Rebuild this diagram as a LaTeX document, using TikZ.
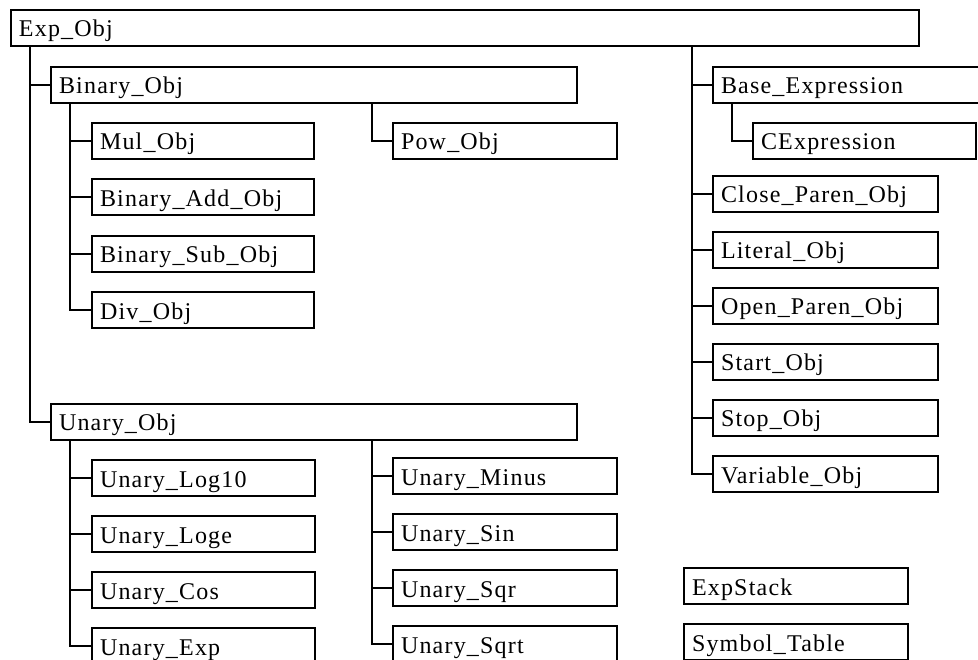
\documentclass[tikz,border=0pt]{standalone}
\usepackage{fontspec}
\setmainfont{Liberation Serif}[LetterSpace=5]

\begin{document}
\begin{tikzpicture}[x=1pt,y=-1pt,line width=2pt,
  every node/.style={font=\fontsize{24}{27}\selectfont},
  cls/.style={draw,rectangle,anchor=north west,minimum height=36pt,
    inner ysep=0pt,inner xsep=8pt,text height=22pt,text depth=4pt,
    align=left,text width=#1}]
  \useasboundingbox (0,0) rectangle (978,660);
  \clip (0,0) rectangle (978,660);
  % root and its two left subtrees
  \node[cls=892pt] (exp) at (10,9) {Exp\_Obj};
  \node[cls=510pt] (binary) at (50,66) {Binary\_Obj};
  \node[cls=510pt] (unary) at (50,403) {Unary\_Obj};
  \coordinate (tExp) at ([xshift=20pt]exp.south west);
  \coordinate (tExpR) at ([xshift=682pt]exp.south west);
  \coordinate (tBin) at ([xshift=20pt]binary.south west);
  \coordinate (tPow) at ([xshift=322pt]binary.south west);
  \coordinate (tUna) at ([xshift=20pt]unary.south west);
  \coordinate (tMin) at ([xshift=322pt]unary.south west);
  \foreach \n in {binary,unary} \draw (tExp) |- (\n.west);
  % binary operators
  \foreach \n/\t/\y in {mul/Mul\_Obj/122,add/Binary\_Add\_Obj/178.5,
      sub/Binary\_Sub\_Obj/235,div/Div\_Obj/291.5}{
    \node[cls=206pt] (\n) at (91,\y) {\t};
    \draw (tBin) |- (\n.west);}
  \node[cls=208pt] (pow) at (392,122) {Pow\_Obj};
  \draw (tPow) |- (pow.west);
  % unary operators
  \foreach \n/\t/\y in {log/Unary\_Log10/459,loge/Unary\_Loge/515,
      cos/Unary\_Cos/571,uexp/Unary\_Exp/627}{
    \node[cls=207pt] (\n) at (91,\y) {\t};
    \draw (tUna) |- (\n.west);}
  \foreach \n/\t/\y in {minus/Unary\_Minus/457,sin/Unary\_Sin/513,
      sqr/Unary\_Sqr/569,sqrt/Unary\_Sqrt/625}{
    \node[cls=208pt] (\n) at (392,\y) {\t};
    \draw (tMin) |- (\n.west);}
  % right column
  \node[cls=264pt] (base) at (712,66) {Base\_Expression};
  \draw (tExpR) |- (base.west);
  \coordinate (tBase) at ([xshift=20pt]base.south west);
  \node[cls=207pt] (cexp) at (752,122) {CExpression};
  \draw (tBase) |- (cexp.west);
  \foreach \n/\t/\y in {close/Close\_Paren\_Obj/175,lit/Literal\_Obj/231,
      open/Open\_Paren\_Obj/287,start/Start\_Obj/343,stop/Stop\_Obj/399,
      var/Variable\_Obj/455}{
    \node[cls=209pt] (\n) at (712,\y) {\t};
    \draw (tExpR) |- (\n.west);}
  % free-standing classes
  \node[cls=208pt] (stack) at (683,567) {ExpStack};
  \node[cls=208pt] (symtab) at (683,623) {Symbol\_Table};
\end{tikzpicture}
\end{document}
